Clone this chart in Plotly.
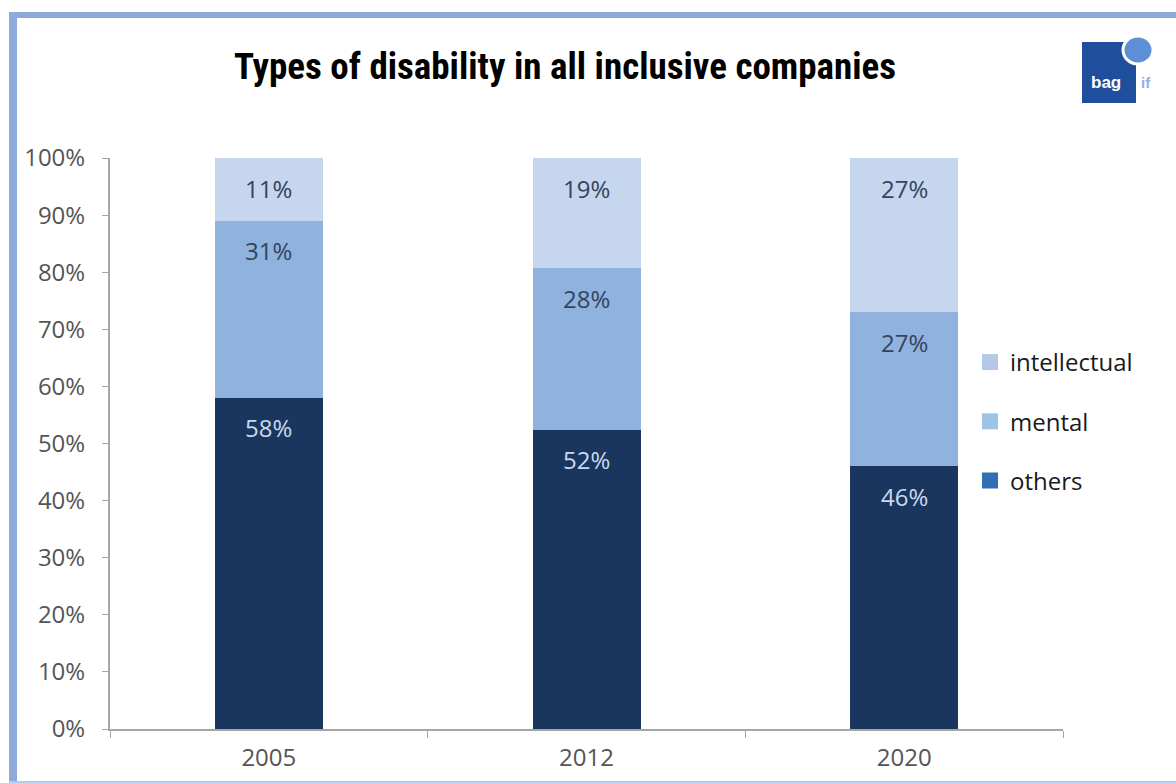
import plotly.graph_objects as go

years = ["2005", "2012", "2020"]
others = [58, 52.4, 46]
mental = [31, 28.3, 27]
intellectual = [11, 19.3, 27]

series_names = ["others", "mental", "intellectual"]
bar_colors = {"others": "#1b365e", "mental": "#8fb2df", "intellectual": "#c6d6ee"}
legend_colors = {"intellectual": "#b4c8e8", "mental": "#9dc3e6", "others": "#2e70b2"}
label_colors = {"others": "#c9d9ee", "mental": "#34445c", "intellectual": "#34445c"}
y_ticks = [0, 10, 20, 30, 40, 50, 60, 70, 80, 90, 100]
y_tick_text = [f"{v}%" for v in y_ticks]

W, H = 1176, 783
L, R, T, B = 110, 1063, 158, 729


def px(x):
    return (x - L) / (R - L)


def py(y):
    return (B - y) / (B - T)


NARROW = "Liberation Sans Narrow, Arial Narrow, Roboto Condensed, sans-serif"
TICKF = "Open Sans, Noto Sans, sans-serif"

fig = go.Figure()
data = {"others": others, "mental": mental, "intellectual": intellectual}
for name in series_names:
    fig.add_trace(go.Bar(
        x=years, y=data[name], name=name,
        marker=dict(color=bar_colors[name], line=dict(width=0)),
        showlegend=False, hoverinfo="skip",
    ))

for name in ["intellectual", "mental", "others"]:
    fig.add_trace(go.Scatter(
        x=[years[0]], y=[None], mode="markers", name=name, legendgroup=name,
        marker=dict(symbol="square", size=20, color=legend_colors[name]),
        hoverinfo="skip",
    ))

annotations = []
for i, yr in enumerate(years):
    cum = 0
    for name in series_names:
        v = data[name][i]
        cum += v
        annotations.append(dict(
            x=i, y=cum, xref="x", yref="y", text=f"{round(v)}%",
            showarrow=False, xanchor="center", yanchor="middle", yshift=-30,
            font=dict(family=TICKF, size=24, color=label_colors[name]),
        ))

# logo text
annotations.append(dict(x=px(1106), y=py(83), xref="paper", yref="paper", text="<b>bag</b>",
                        showarrow=False, xanchor="center", yanchor="middle",
                        font=dict(family="Liberation Sans, Arial, sans-serif", size=17, color="white")))
annotations.append(dict(x=px(1146), y=py(83), xref="paper", yref="paper", text="<b>if</b>",
                        showarrow=False, xanchor="center", yanchor="middle",
                        font=dict(family="Liberation Sans, Arial, sans-serif", size=15, color="#8db3e2")))

shapes = [
    # frame
    dict(type="line", xref="paper", yref="paper", x0=px(9), x1=px(1176), y0=py(15), y1=py(15),
         line=dict(color="#8eaad8", width=6)),
    dict(type="line", xref="paper", yref="paper", x0=px(13), x1=px(13), y0=py(12), y1=py(783),
         line=dict(color="#8eaad8", width=8)),
    dict(type="line", xref="paper", yref="paper", x0=px(9), x1=px(1176), y0=py(782), y1=py(782),
         line=dict(color="#b8c8e6", width=2)),
    # logo
    dict(type="rect", xref="paper", yref="paper", x0=px(1082), x1=px(1136), y0=py(103), y1=py(42),
         fillcolor="#1f4f9c", line=dict(width=0)),
    dict(type="circle", xref="paper", yref="paper", x0=px(1123), x1=px(1153), y0=py(64), y1=py(36),
         fillcolor="#5b8fd6", line=dict(color="white", width=3)),
]

fig.update_layout(
    width=W, height=H,
    margin=dict(l=L, r=W - R, t=T, b=H - B, autoexpand=False),
    paper_bgcolor="white", plot_bgcolor="white",
    barmode="stack", bargap=0.66,
    title=dict(text="<b>Types of disability in all inclusive companies</b>",
               x=565 / W, y=1 - 66 / H, xanchor="center", yanchor="middle",
               font=dict(family=NARROW, size=37, color="black")),
    xaxis=dict(type="category", categoryorder="array", categoryarray=years, range=[-0.5, 2.5],
               showgrid=False, showline=True, linecolor="#a6a6a6", linewidth=2,
               ticks="outside", tickson="boundaries", ticklen=7, tickcolor="#a6a6a6",
               ticklabelstandoff=6,
               tickfont=dict(family=TICKF, size=24, color="#555555")),
    yaxis=dict(range=[0, 100], tickvals=y_ticks, ticktext=y_tick_text, showgrid=False,
               showline=True, linecolor="#a6a6a6", linewidth=2, ticks="outside", ticklen=6,
               tickcolor="#a6a6a6", zeroline=False, ticklabelstandoff=12,
               tickfont=dict(family=TICKF, size=24, color="#555555")),
    legend=dict(x=px(970), y=py(340), xanchor="left", yanchor="top", tracegroupgap=25,
                bgcolor="rgba(0,0,0,0)",
                font=dict(family="Open Sans, Noto Sans, sans-serif", size=24, color="#1a1a1a")),
    annotations=annotations, shapes=shapes,
)

fig.write_html("out.html")
